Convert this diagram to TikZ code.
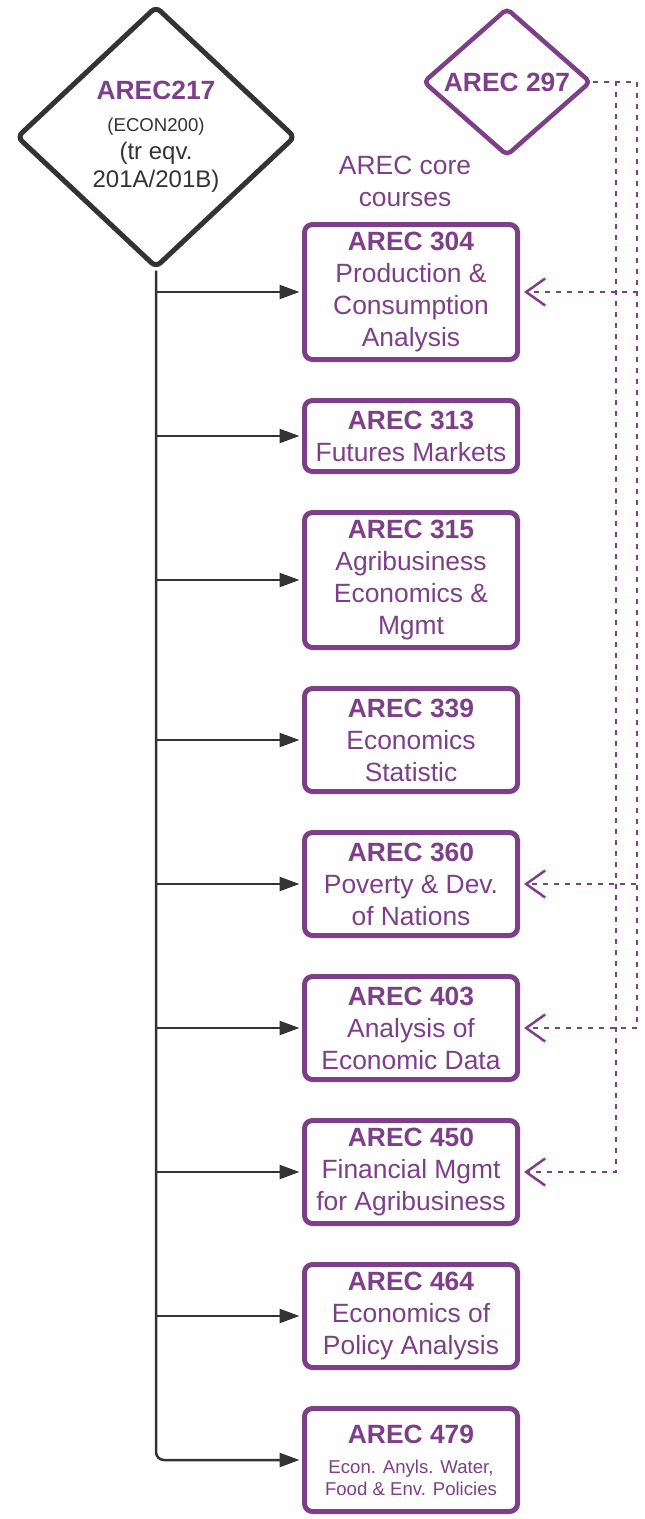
\documentclass[tikz,border=0pt]{standalone}
\usepackage{fontspec}
\setmainfont{Liberation Sans}
\usetikzlibrary{shapes.geometric,arrows.meta,calc}

\definecolor{arecPurple}{RGB}{126,63,137}
\definecolor{lineGray}{RGB}{51,51,51}

\tikzset{
  course/.style={draw=arecPurple, line width=5bp, rounded corners=8bp, fill=white,
    text=arecPurple, align=center, minimum width=213bp, inner sep=0pt,
    font=\fontsize{26.4bp}{32bp}\selectfont},
  prereq/.style={->, >={Triangle[length=20bp,width=14bp]}, draw=lineGray, line width=2.5bp,
    shorten >=2.5bp},
  elective/.style={draw=arecPurple, line width=2.5bp, dash pattern=on 5bp off 6bp,
    -{Straight Barb[length=19bp,width=27bp,line width=2.5bp]}, shorten >=4bp}
}

\begin{document}
\begin{tikzpicture}[x=1bp, y=-1bp]
\useasboundingbox (0,0) rectangle (645,1519);

\def\xb{411};

% prerequisite diamonds
\node[diamond, draw=lineGray, line width=5bp, rounded corners=6bp, minimum width=279bp,
  minimum height=262bp, inner sep=0pt, align=center, text=lineGray,
  font=\fontsize{24bp}{28bp}\selectfont] (a217) at (156,137)
  {{\color{arecPurple}\fontsize{26.4bp}{30bp}\selectfont\bfseries AREC217}\\[4bp]
   {\fontsize{18.6bp}{22bp}\selectfont (ECON200)}\\
   (tr eqv.\\201A/201B)};
\node[diamond, draw=arecPurple, line width=4.5bp, rounded corners=5bp, minimum width=168bp,
  minimum height=148bp, inner sep=0pt, text=arecPurple,
  font=\fontsize{26.4bp}{32bp}\selectfont\bfseries] (a297) at (507,82) {AREC 297};

\node[text=arecPurple, align=center, font=\fontsize{26.4bp}{32bp}\selectfont] (core) at (405,181)
  {AREC core\\courses};

% core courses
\node[course, minimum height=135bp] (b304) at (\xb,292)
  {\textbf{AREC 304}\\Production \&\\Consumption\\Analysis};
\node[course, minimum height=71bp] (b313) at (\xb,436)
  {\textbf{AREC 313}\\Futures Markets};
\node[course, minimum height=135bp] (b315) at (\xb,580)
  {\textbf{AREC 315}\\Agribusiness\\Economics \&\\Mgmt};
\node[course, minimum height=103bp] (b339) at (\xb,740)
  {\textbf{AREC 339}\\Economics\\Statistic};
\node[course, minimum height=103bp] (b360) at (\xb,884)
  {\textbf{AREC 360}\\Poverty \& Dev.\\of Nations};
\node[course, minimum height=103bp] (b403) at (\xb,1028)
  {\textbf{AREC 403}\\Analysis of\\Economic Data};
\node[course, minimum height=103bp] (b450) at (\xb,1172)
  {\textbf{AREC 450}\\Financial Mgmt\\for Agribusiness};
\node[course, minimum height=103bp] (b464) at (\xb,1316)
  {\textbf{AREC 464}\\Economics of\\Policy Analysis};
\node[course, minimum height=103bp] (b479) at (\xb,1460)
  {\textbf{AREC 479}\\[-2bp]
   \fontsize{18.6bp}{21bp}\selectfont Econ. Anyls. Water,\\[-10bp]
   \fontsize{18.6bp}{21bp}\selectfont Food \& Env. Policies};

% trunk from AREC217
\draw[prereq, rounded corners=8bp] (a217.south) -- (a217.south |- b479.west) -- (b479.west);
\draw[prereq] (a217.south |- b304.west) -- (b304.west);
\draw[prereq] (a217.south |- b313.west) -- (b313.west);
\draw[prereq] (a217.south |- b315.west) -- (b315.west);
\draw[prereq] (a217.south |- b339.west) -- (b339.west);
\draw[prereq] (a217.south |- b360.west) -- (b360.west);
\draw[prereq] (a217.south |- b403.west) -- (b403.west);
\draw[prereq] (a217.south |- b450.west) -- (b450.west);
\draw[prereq] (a217.south |- b464.west) -- (b464.west);

% dotted links from AREC 297
\coordinate (rOut) at (637,82);
\coordinate (rIn) at (616,82);
\draw[elective] (a297.east) -- (rOut) |- (b304.east);
\draw[elective] (a297.east) -- (rOut) |- (b360.east);
\draw[elective] (a297.east) -- (rOut) |- (b403.east);
\draw[elective] (a297.east) -- (rIn) |- (b450.east);

\end{tikzpicture}
\end{document}
